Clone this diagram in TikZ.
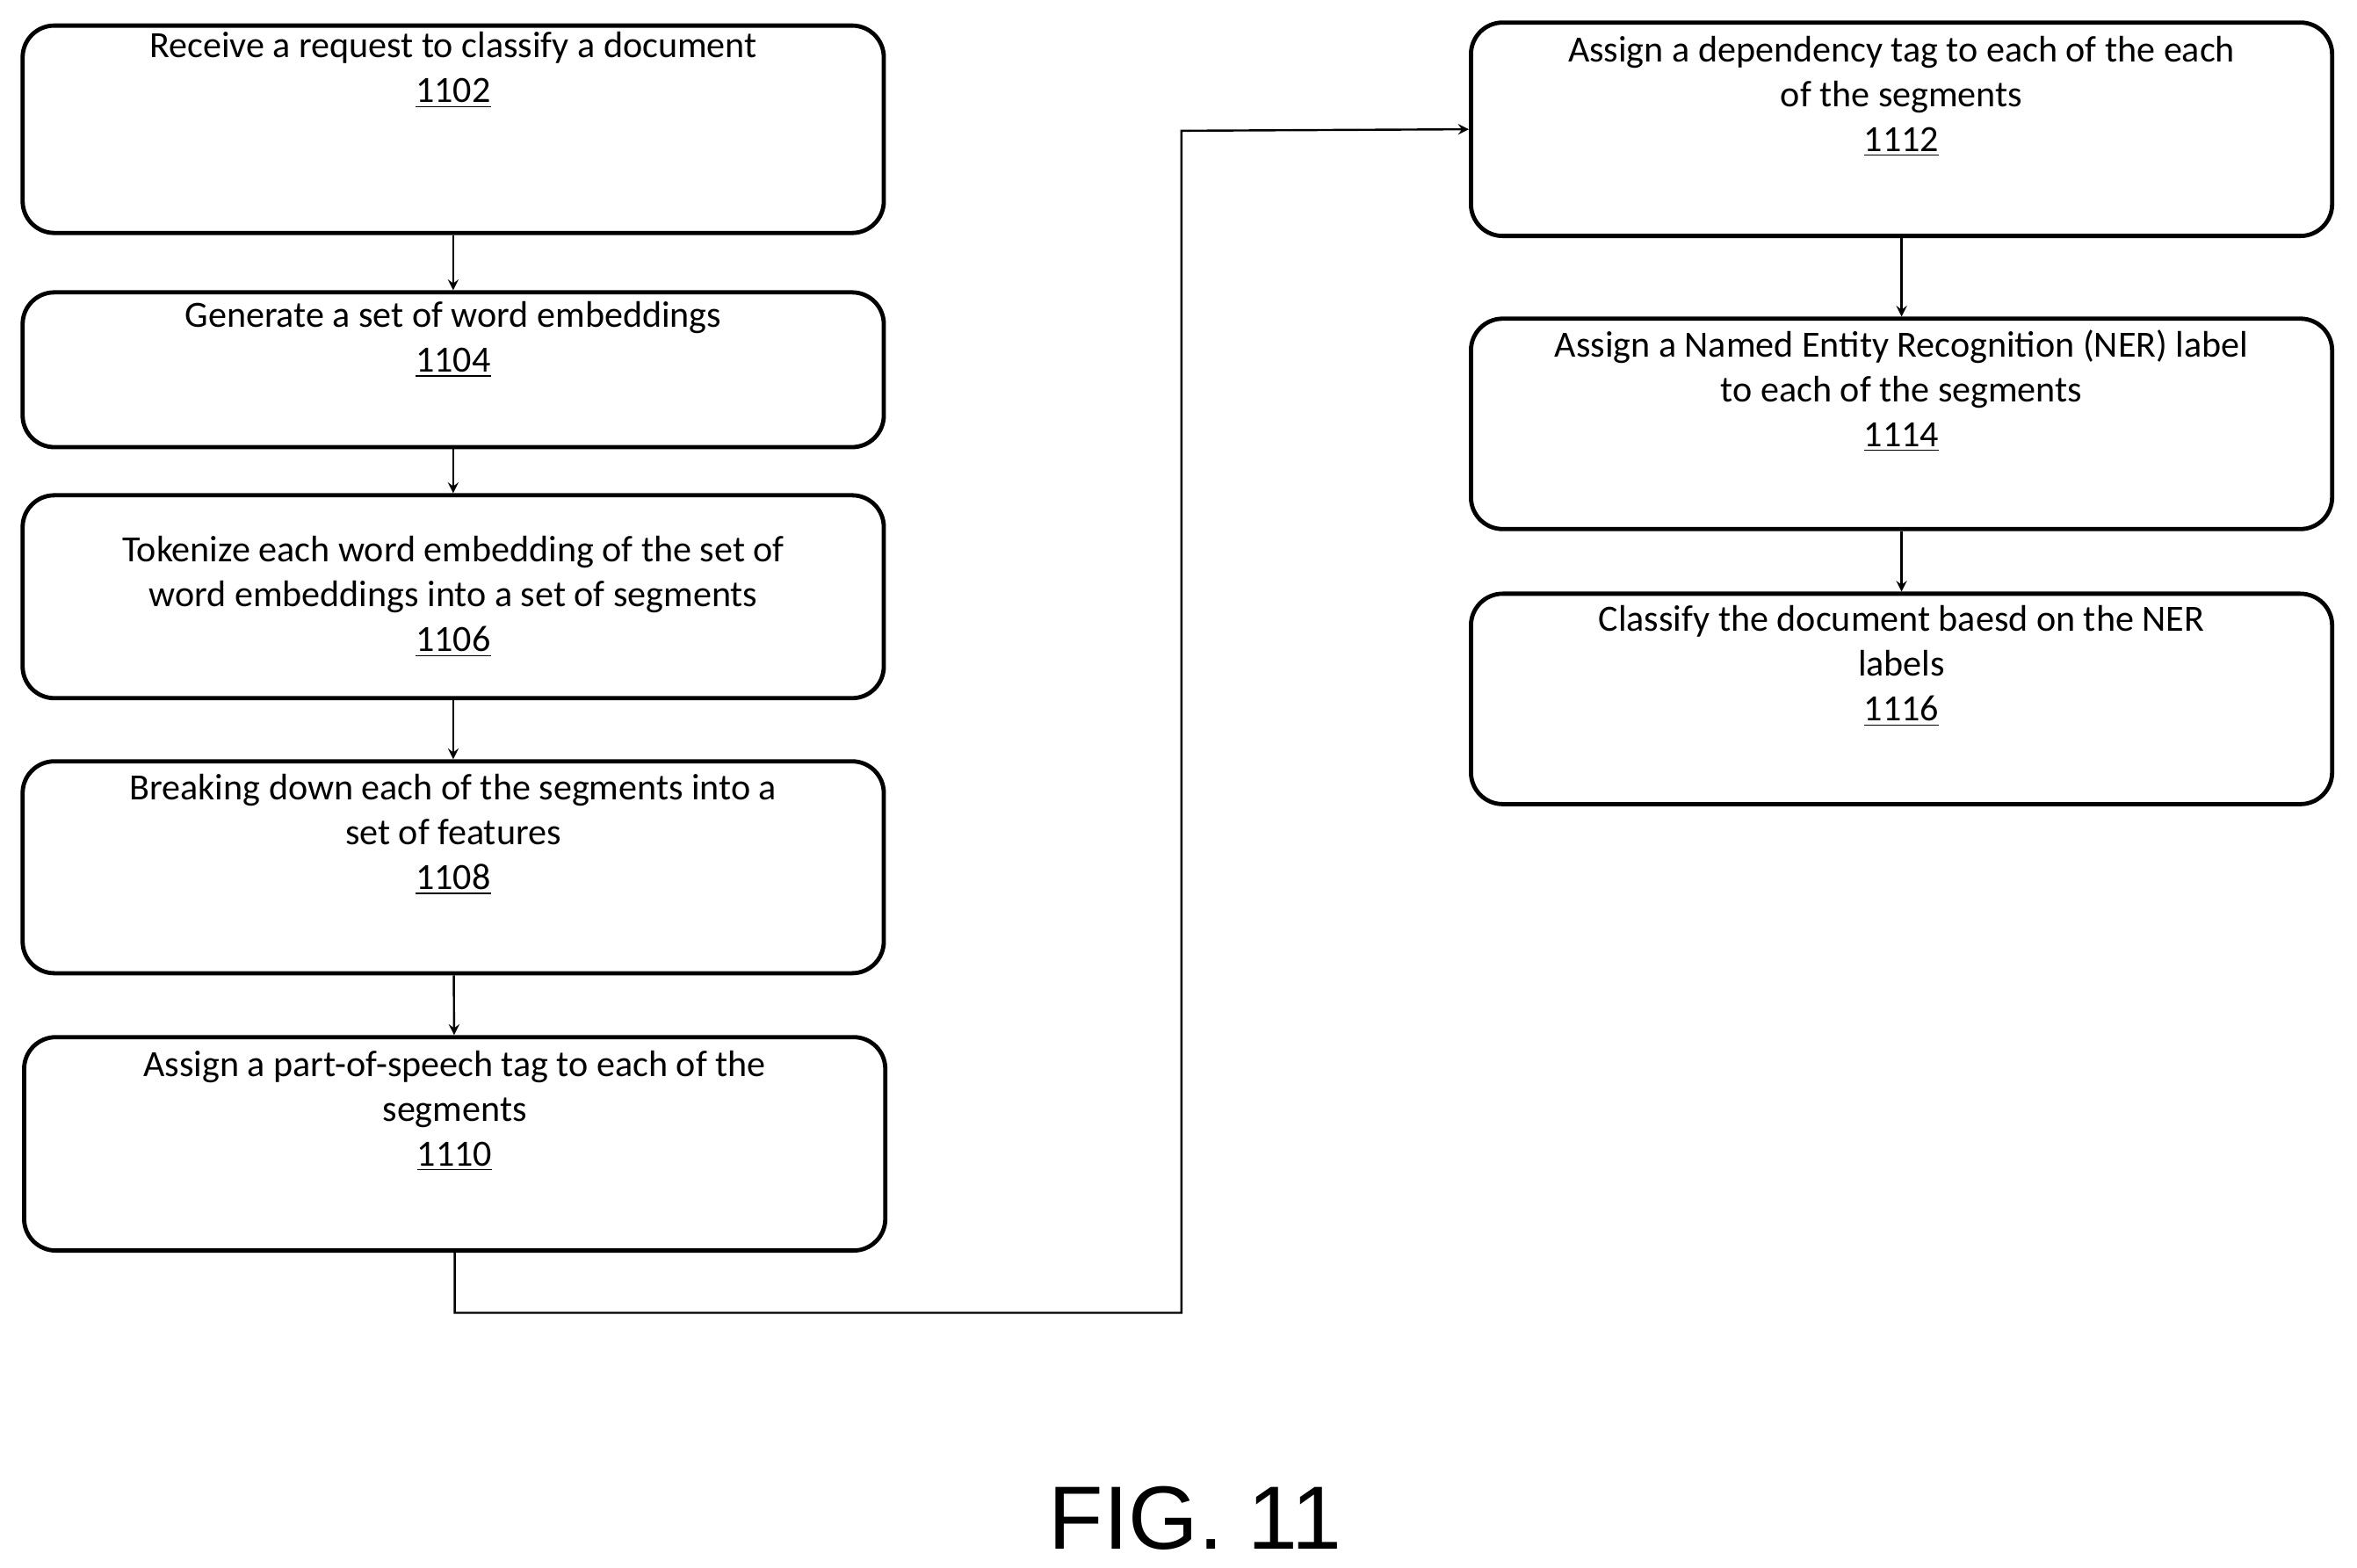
\documentclass[tikz,border=0pt]{standalone}
\usepackage{fontspec}
\setmainfont{Carlito}
\newfontfamily\figfont{Liberation Sans}
\usepackage{tikz}
\tikzstyle{stepbox}=[draw,rounded corners=12pt,line width=1.6pt,minimum width=11.46cm,align=center,font=\fontsize{14}{17}\selectfont,inner sep=0pt]
\tikzstyle{flow}=[line width=0.8pt,-stealth]

\begin{document}
\begin{tikzpicture}[x=0.02cm,y=-0.02cm]
	\useasboundingbox (0,0) rectangle (1568,1043);
	\foreach \place/\name/\h/\txt in {%
	{(301.5,86)/1102/2.76cm/Receive a request to classify a document\\\underline{1102}\\[30pt]},
	{(301.5,246)/1104/2.06cm/Generate a set of word embeddings\\\underline{1104}\\[8pt]},
	{(301.5,397)/1106/2.7cm/Tokenize each word embedding of the set of\\word embeddings into a set of segments\\\underline{1106}},
	{(301.5,577)/1108/2.82cm/Breaking down each of the segments into a\\set of features\\\underline{1108}\\[10pt]},
	{(302.5,761)/1110/2.84cm/Assign a part-of-speech tag to each of the\\segments\\\underline{1110}\\[10pt]},
	{(1265,86)/1112/2.84cm/Assign a dependency tag to each of the each\\of the segments\\\underline{1112}\\[10pt]},
	{(1265,282)/1114/2.8cm/Assign a Named Entity Recognition (NER) label\\to each of the segments\\\underline{1114}\\[10pt]},
	{(1265,465)/1116/2.8cm/Classify the document baesd on the NER\\labels\\\underline{1116}\\[10pt]}}
    \node[stepbox,minimum height=\h] (\name) at \place {\txt};

	\foreach \source/\dest in {1102/1104, 1104/1106, 1106/1108, 1108/1110, 1112/1114, 1114/1116}
	\draw[flow] (\source) -- (\dest);

	\draw[flow] (1110.south) -- ++(0,40) -| (786,87) -- (1112.west);

	\node[font=\figfont\fontsize{34}{40}\selectfont] (fig) at (795,1010) {FIG. 11};
\end{tikzpicture}
\end{document}
